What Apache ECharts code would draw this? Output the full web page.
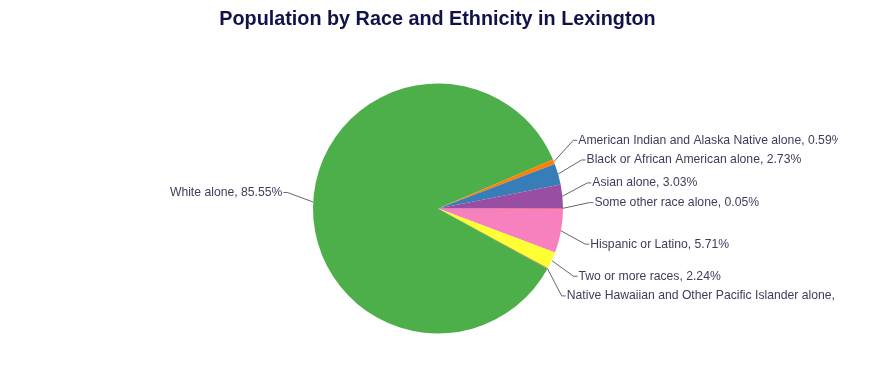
<!DOCTYPE html>
<html><head><meta charset="utf-8">
<script src="https://cdn.jsdelivr.net/npm/echarts@6/dist/echarts.min.js"></script>
<style>html,body{margin:0;padding:0;background:#fff}#wrap{width:838px;height:380px;overflow:hidden}#c{width:875px;height:380px}</style>
</head><body><div id="wrap"><div id="c"></div></div>
<script>
const categories = ["Hispanic or Latino","Two or more races","Native Hawaiian and Other Pacific Islander alone","White alone","American Indian and Alaska Native alone","Black or African American alone","Asian alone","Some other race alone"];
const values = [5.71, 2.24, 0.10, 85.55, 0.59, 2.73, 3.03, 0.05];
const colors = ["#f781bf","#ffff33","#a65628","#4daf4a","#ff7f00","#377eb8","#984ea3","#e41a1c"];

const CX = 438, CY = 208.5, R = 125;
const LABEL_DIST = 30, X_DIST = 26.5, V_OFF = 8, BOX = 19.7, PAD = 5;

const chart = echarts.init(document.getElementById('c'));
let placed = null;

function computePlacement() {
  const data = chart.getModel().getSeriesByIndex(0).getData();
  const items = [];
  for (let i = 0; i < data.count(); i++) {
    const l = data.getItemLayout(i);
    const mid = (l.startAngle + l.endAngle) / 2;
    const c = Math.cos(mid), s = Math.sin(mid);
    items.push({
      i, c, s,
      edge: [l.cx + l.r * c, l.cy + l.r * s],
      cx: l.cx, cy: l.cy, r: l.r,
      left: c < 0,
      target: l.cy + (l.r + LABEL_DIST) * s + (s < 0 ? -V_OFF : V_OFF)
    });
  }
  const res = {};
  [false, true].forEach(side => {
    const pts = items.filter(p => p.left === side).sort((a, b) => a.target - b.target);
    let boxes = pts.map(p => ({ targets: [p.target], items: [p], size: BOX, pos: 0 }));
    let overlapping = true;
    while (overlapping) {
      boxes.forEach(b => {
        const t = (Math.min(...b.targets) + Math.max(...b.targets)) / 2;
        b.pos = t - b.size / 2;
      });
      overlapping = false;
      for (let k = boxes.length - 1; k > 0; k--) {
        if (boxes[k - 1].pos + boxes[k - 1].size > boxes[k].pos) {
          boxes[k - 1].size += boxes[k].size;
          boxes[k - 1].targets = boxes[k - 1].targets.concat(boxes[k].targets);
          boxes[k - 1].items = boxes[k - 1].items.concat(boxes[k].items);
          boxes.splice(k, 1);
          overlapping = true;
        }
      }
    }
    boxes.forEach(b => {
      b.items.forEach((p, k) => {
        const y = b.pos + BOX / 2 + k * BOX;
        const rr = p.r + X_DIST;
        const dy = Math.min(Math.abs(y - p.cy), rr);
        const x = p.cx + (side ? -1 : 1) * Math.sqrt(rr * rr - dy * dy);
        const dir = side ? -1 : 1;
        res[p.i] = {
          x: x + dir * PAD, y,
          align: side ? 'right' : 'left',
          verticalAlign: 'middle',
          labelLinePoints: [p.edge, [x, y], [x + dir * (PAD - 1), y]]
        };
      });
    });
  });
  return res;
}

const baseOption = {
  animation: false,
  title: { text: 'Population by Race and Ethnicity in Lexington', left: 'center', top: 5,
    textStyle: { fontFamily: 'Liberation Sans', fontSize: 19.8, fontWeight: 'bold', color: '#12124a' } },
  series: [{
    type: 'pie', center: [CX, CY], radius: R, startAngle: 0, clockwise: true,
    avoidLabelOverlap: false, minShowLabelAngle: 0,
    data: categories.map((n, i) => ({ name: n, value: values[i], itemStyle: { color: colors[i] } })),
    label: { formatter: p => p.name + ', ' + p.value.toFixed(2) + '%', fontFamily: 'Liberation Sans', fontSize: 12.2, color: '#3d3d5c' },
    labelLine: { show: true, length: 10, length2: 5, smooth: false, lineStyle: { color: '#666666', width: 1 } },
    labelLayout: params => placed ? placed[params.dataIndex] : {},
    itemStyle: { borderWidth: 0 }
  }]
};
chart.setOption(baseOption);
placed = computePlacement();
chart.setOption(baseOption, true);
</script></body></html>
